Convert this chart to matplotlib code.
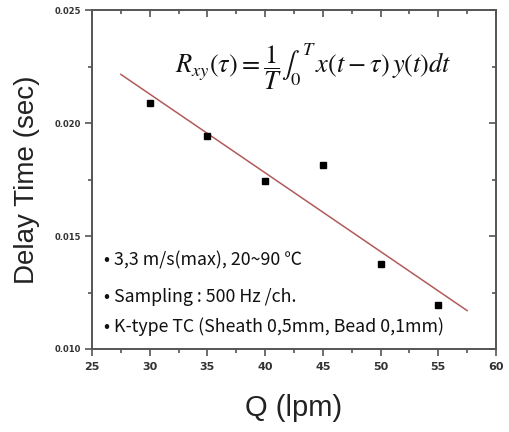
import numpy as np
import matplotlib
matplotlib.use("Agg")
import matplotlib.pyplot as plt
from matplotlib.ticker import MultipleLocator

Q = [30, 35, 40, 45, 50, 55]
delay = [0.02087, 0.01942, 0.01743, 0.01814, 0.01376, 0.01193]
fit_range = [27.5, 57.5]
notes = ["• 3,3 m/s(max), 20~90 ℃",
         "• Sampling : 500 Hz /ch.",
         "• K-type TC (Sheath 0,5mm, Bead 0,1mm)"]
xticks = [25, 30, 35, 40, 45, 50, 55, 60]
yticks = [0.010, 0.015, 0.020, 0.025]

plt.rcParams['mathtext.fontset'] = 'stix'
fig = plt.figure(figsize=(5.1, 4.32), dpi=100)
ax = fig.add_axes([92/510, 1-349/432, (496-92)/510, (349-10)/432])

slope, icpt = np.polyfit(Q, delay, 1)
xf = np.array(fit_range)
ax.plot(xf, slope*xf + icpt, color='#b25a5a', lw=1.1)
ax.plot(Q, delay, 's', color='black', ms=5)

ax.set_xlim(25, 60)
ax.set_ylim(0.010, 0.025)
ax.set_xticks(xticks)
ax.set_yticks(yticks)
ax.set_yticklabels([f"{v:.3f}" for v in yticks])
ax.xaxis.set_minor_locator(MultipleLocator(2.5))
ax.yaxis.set_minor_locator(MultipleLocator(0.0025))
for s in ax.spines.values():
    s.set_color('#555555')
    s.set_linewidth(1.4)
ax.tick_params(which='both', direction='out', colors='#555555', width=1.2,
               labelcolor='#333333')
ax.tick_params(which='major', length=5, labelsize=7)
ax.tick_params(which='minor', length=3)
for lab in ax.get_xticklabels() + ax.get_yticklabels():
    lab.set_fontweight('bold')
ax.tick_params(axis='x', labelsize=8, pad=4)
ax.tick_params(axis='y', labelsize=6, pad=3)
# top/right inward ticks
axt = ax.secondary_xaxis('top')
axt.set_xticks(xticks)
axt.xaxis.set_minor_locator(MultipleLocator(2.5))
axt.tick_params(which='both', direction='in', colors='#555555', width=1.2, labeltop=False)
axt.tick_params(which='major', length=5)
axt.tick_params(which='minor', length=3)
axt.spines['top'].set_visible(False)
axr = ax.secondary_yaxis('right')
axr.set_yticks(yticks)
axr.yaxis.set_minor_locator(MultipleLocator(0.0025))
axr.tick_params(which='both', direction='in', colors='#555555', width=1.2, labelright=False)
axr.tick_params(which='major', length=5)
axr.tick_params(which='minor', length=3)
axr.spines['right'].set_visible(False)

ax.set_ylabel("Delay Time (sec)", fontsize=20, family='Liberation Sans', color='#222222', labelpad=10)
ax.set_xlabel("Q (lpm)", fontsize=21, family='Liberation Sans', color='#222222', labelpad=16)

ax.text(0.205, 0.832, r"$R_{xy}(\tau)=\dfrac{1}{T}\int_0^{\,T}\,x(t-\tau)\,y(t)dt$",
        transform=ax.transAxes, fontsize=19, ha='left', va='center', color='#111111')

ys = [0.01390, 0.01228, 0.01098]
for t, y in zip(notes, ys):
    ax.text(26.0, y, t, fontsize=12.8, family=['Noto Sans CJK KR', 'DejaVu Sans'],
            color='#111111', va='center', ha='left')

fig.savefig("out.png", dpi=100)
